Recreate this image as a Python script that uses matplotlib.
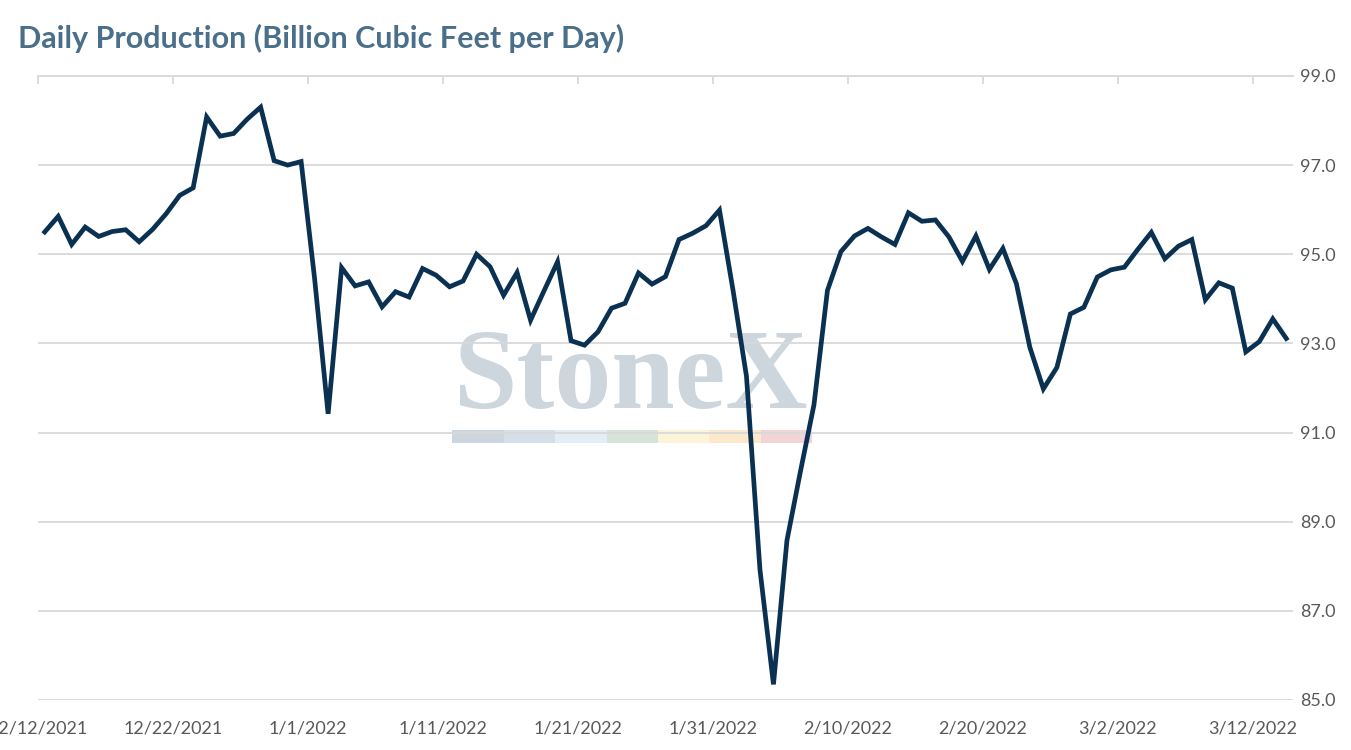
import matplotlib.pyplot as plt
from matplotlib.patches import Rectangle
import pandas as pd

# daily production, bcf/d, 12/12/2021 .. 3/14/2022
start_date = "2021-12-12"
production = [
    95.50, 95.85, 95.22, 95.61, 95.40, 95.51, 95.55, 95.28, 95.56, 95.91,
    96.32, 96.49, 98.08, 97.65, 97.71, 98.03, 98.30, 97.10, 97.00, 97.08,
    94.45, 91.42, 94.70, 94.29, 94.38, 93.82, 94.16, 94.04, 94.68, 94.53,
    94.27, 94.40, 95.00, 94.72, 94.08, 94.59, 93.52, 94.18, 94.83, 93.06,
    92.96, 93.26, 93.79, 93.90, 94.58, 94.33, 94.50, 95.33, 95.47, 95.64,
    95.99, 94.20, 92.26, 87.92, 85.35, 88.58, 90.13, 91.62, 94.19, 95.06,
    95.41, 95.58, 95.39, 95.22, 95.93, 95.74, 95.77, 95.39, 94.84, 95.41,
    94.66, 95.13, 94.34, 92.91, 91.98, 92.46, 93.66, 93.81, 94.49, 94.65,
    94.71, 95.11, 95.49, 94.90, 95.18, 95.33, 93.98, 94.36, 94.24, 92.81,
    93.04, 93.55, 93.11,
]
tick_dates = pd.date_range("2021-12-12", "2022-03-12", freq="10D")
tick_labels = [f"{d.month}/{d.day}/{d.year}" for d in tick_dates]
y_ticks = [85, 87, 89, 91, 93, 95, 97, 99]
watermark_colors = ["#cdd5de", "#d5dfea", "#e2edf6", "#d5e3d9", "#fbf4d9", "#fce9cb", "#f2d4d6"]

dates = pd.date_range(start_date, periods=len(production)) + pd.Timedelta(hours=12)

plt.rcParams["font.family"] = ["Lato", "DejaVu Sans"]
fig = plt.figure(figsize=(13.51, 7.5), dpi=100)
ax = fig.add_axes([0.0281, 0.0667, 0.9290, 0.8320])

ax.plot(dates, production, color="#0b3152", linewidth=3.4, solid_joinstyle="miter", zorder=5)

ax.set_xlim(pd.Timestamp("2021-12-12"), pd.Timestamp("2022-03-15"))
ax.set_ylim(85, 99)
ax.set_yticks(y_ticks)
ax.set_yticklabels([f"{v:.1f}" for v in y_ticks])
ax.set_xticks(tick_dates)
ax.set_xticklabels(tick_labels)

ax.yaxis.tick_right()
ax.grid(axis="y", color="#d9d9d9", linewidth=1.3, zorder=0)
for s in ["left", "right", "bottom"]:
    ax.spines[s].set_visible(False)
ax.spines["top"].set_color("#d9d9d9")
ax.spines["top"].set_linewidth(1.3)
ax.tick_params(axis="y", length=0, pad=5, labelsize=13, labelcolor="#595959")
ax.tick_params(axis="x", bottom=False, top=True, labelbottom=True, labeltop=False,
               direction="in", length=6, width=1.3, color="#d9d9d9",
               labelsize=13, labelcolor="#595959", pad=15)

# StoneX watermark
ax.text(0.473, 0.468, "StoneX", transform=ax.transAxes, ha="center", va="baseline",
        fontsize=82, fontweight="bold", family="Liberation Serif", color="#cdd5dd", zorder=1)
seg_w = (0.617 - 0.330) / len(watermark_colors)
for i, c in enumerate(watermark_colors):
    ax.add_patch(Rectangle((0.330 + i * seg_w, 0.412), seg_w, 0.021, transform=ax.transAxes,
                           facecolor=c, edgecolor="none", zorder=1))

fig.text(0.0133, 0.949, "Daily Production (Billion Cubic Feet per Day)", fontsize=22,
         fontweight="bold", color="#4a6f8a", ha="left", va="center")

fig.savefig("out.png", dpi=100)
plt.close()
